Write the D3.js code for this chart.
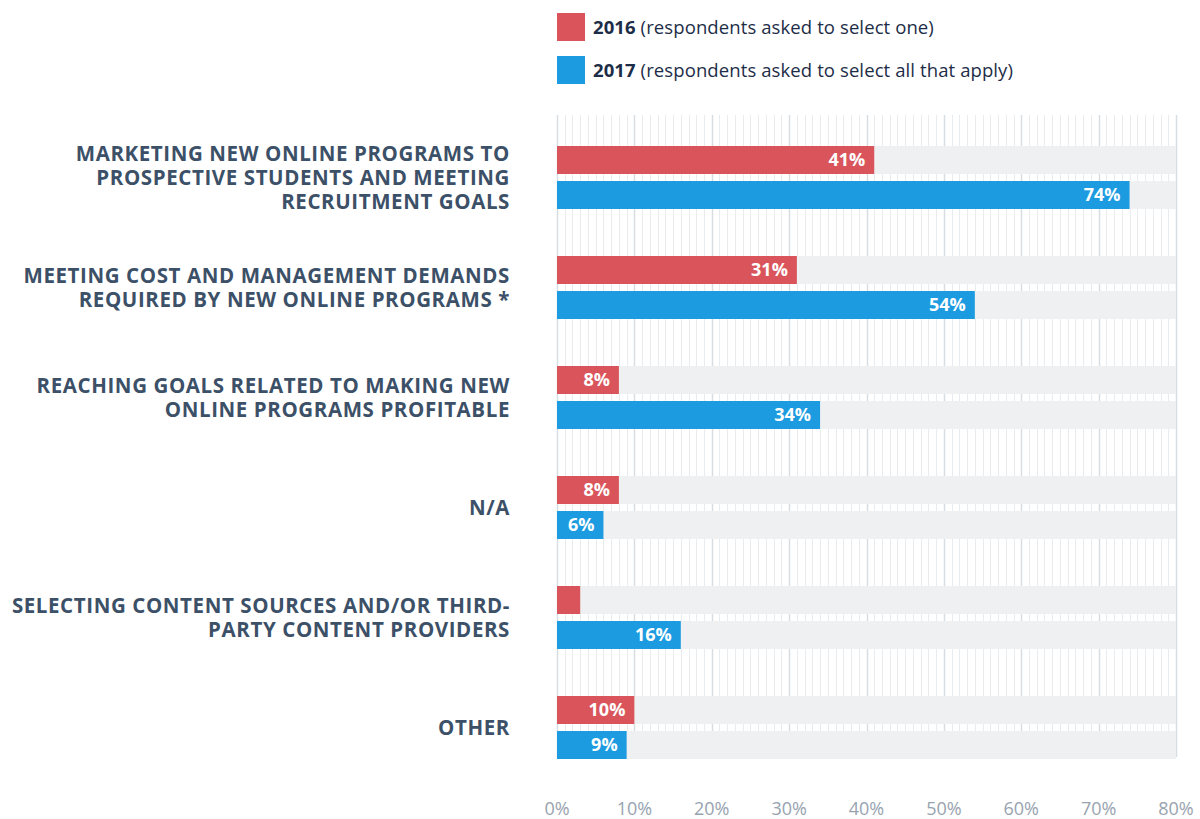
<!DOCTYPE html>
<html>
<head>
<meta charset="utf-8">
<script src="https://cdn.jsdelivr.net/npm/d3@7"></script>
<style>
	body { margin: 0; background: #fff; font-family: "Open Sans", sans-serif; }
	svg text { font-family: "Open Sans", sans-serif; }
</style>
</head>
<body>
<div id="chart"></div>
<script>
var categories = [
	["MARKETING NEW ONLINE PROGRAMS TO", "PROSPECTIVE STUDENTS AND MEETING", "RECRUITMENT GOALS"],
	["MEETING COST AND MANAGEMENT DEMANDS", "REQUIRED BY NEW ONLINE PROGRAMS *"],
	["REACHING GOALS RELATED TO MAKING NEW", "ONLINE PROGRAMS PROFITABLE"],
	["N/A"],
	["SELECTING CONTENT SOURCES AND/OR THIRD-", "PARTY CONTENT PROVIDERS"],
	["OTHER"]
];
var values2016 = [41, 31, 8, 8, 3, 10];
var values2017 = [74, 54, 34, 6, 16, 9];
var labels2016 = ["41%", "31%", "8%", "8%", "", "10%"];
var labels2017 = ["74%", "54%", "34%", "6%", "16%", "9%"];
var xTicks = [0, 10, 20, 30, 40, 50, 60, 70, 80];
var legendItems = [
	{ year: "2016", text: " (respondents asked to select one)" },
	{ year: "2017", text: " (respondents asked to select all that apply)" }
];

var width = 1200,
	height = 819;

var colors = ["#d9555b", "#1d9be0"];

var svg = d3.select("#chart").append("svg")
	.attr("width", width)
	.attr("height", height);

var xScale = d3.scaleLinear().domain([0, 80]).range([557, 1176]);
var yScale = d3.scaleBand().domain(d3.range(categories.length)).range([122, 782]).paddingInner(0).paddingOuter(0);

var gridTop = 115, gridBottom = 757;

// minor + major gridlines
var grid = svg.append("g");
grid.selectAll("line")
	.data(d3.range(0, 81))
	.enter()
	.append("line")
	.attr("x1", function(d) { return Math.round(xScale(d)) + 0.5; })
	.attr("x2", function(d) { return Math.round(xScale(d)) + 0.5; })
	.attr("y1", gridTop)
	.attr("y2", gridBottom)
	.style("stroke", function(d) { return d % 10 === 0 ? "#d8dde2" : "#e9ecef"; })
	.style("stroke-width", function(d) { return d % 10 === 0 ? 1.5 : 1; });

var barH = 28, gap = 7;

var groups = svg.selectAll(".group")
	.data(categories)
	.enter()
	.append("g")
	.attr("class", "group")
	.attr("transform", function(d, i) { return "translate(0," + (yScale(i) + 24) + ")"; });

// background tracks
[0, 1].forEach(function(k) {
	groups.append("rect")
		.attr("x", xScale(0))
		.attr("y", k * (barH + gap))
		.attr("width", xScale(80) - xScale(0))
		.attr("height", barH)
		.style("fill", "#eff0f2");
});

var series = [
	{ values: values2016, labels: labels2016 },
	{ values: values2017, labels: labels2017 }
];

series.forEach(function(s, k) {
	groups.append("rect")
		.attr("x", xScale(0))
		.attr("y", k * (barH + gap))
		.attr("width", function(d, i) { return xScale(s.values[i]) - xScale(0); })
		.attr("height", barH)
		.style("fill", colors[k]);

	groups.append("text")
		.attr("x", function(d, i) { return xScale(s.values[i]) - 9; })
		.attr("y", k * (barH + gap) + barH / 2)
		.attr("dy", "0.36em")
		.attr("text-anchor", "end")
		.style("fill", "#fff")
		.style("font-weight", 700)
		.style("font-size", "18px")
		.text(function(d, i) { return s.labels[i]; });
});

// category labels
var lineH = 24;
groups.append("text")
	.attr("text-anchor", "end")
	.style("fill", "#3c5068")
	.style("font-weight", 700)
	.style("font-size", "20.5px")
	.style("letter-spacing", "0.6px")
	.each(function(d) {
		var t = d3.select(this);
		var center = barH + gap / 2;
		var start = center - (d.length - 1) * lineH / 2;
		d.forEach(function(line, j) {
			t.append("tspan")
				.attr("x", 510)
				.attr("y", start + j * lineH)
				.attr("dy", "0.36em")
				.text(line);
		});
	});

// x axis labels
svg.append("g").selectAll("text")
	.data(xTicks)
	.enter()
	.append("text")
	.attr("x", function(d) { return xScale(d); })
	.attr("y", 815)
	.attr("text-anchor", "middle")
	.style("fill", "#98a3b0")
	.style("font-size", "18px")
	.text(function(d) { return d + "%"; });

// legend
var legend = svg.append("g").selectAll("g")
	.data(legendItems)
	.enter()
	.append("g")
	.attr("transform", function(d, i) { return "translate(557," + (13 + i * 43) + ")"; });

legend.append("rect")
	.attr("width", 28)
	.attr("height", 28)
	.style("fill", function(d, i) { return colors[i]; });

var lt = legend.append("text")
	.attr("x", 36)
	.attr("y", 14)
	.attr("dy", "0.36em")
	.style("fill", "#1d2d47")
	.style("font-size", "18.5px")
	.style("letter-spacing", "0.1px");
lt.append("tspan").style("font-weight", 700).text(function(d) { return d.year; });
lt.append("tspan").text(function(d) { return d.text; });
</script>
</body>
</html>
